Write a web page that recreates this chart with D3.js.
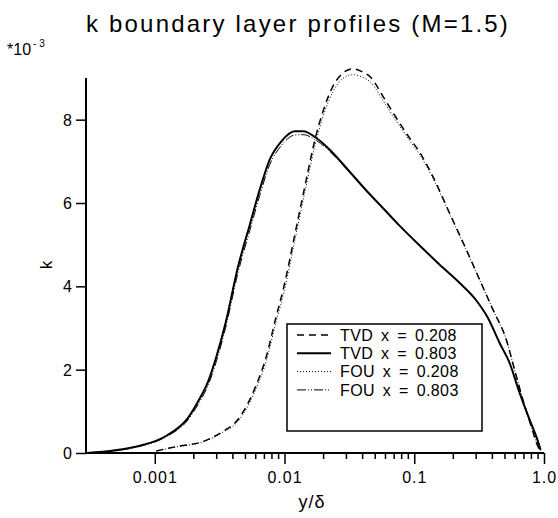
<!DOCTYPE html>
<html>
<head>
<meta charset="utf-8">
<script src="https://cdn.jsdelivr.net/npm/d3@7"></script>
<style>
  body { margin: 0; background: #fff; }
  svg text { font-family: "Liberation Sans", Arial, sans-serif; fill: #000; }
</style>
</head>
<body>
<div id="chart"></div>
<script>
// data (k in units of 1e-3)
const tvd208X = [0.00103, 0.00156, 0.00222, 0.00336, 0.00426, 0.00508, 0.00607, 0.00725, 0.0085, 0.0099, 0.0123, 0.0148, 0.0171, 0.0198, 0.0236, 0.0282, 0.0337, 0.0391, 0.0467, 0.0574, 0.0728, 0.092, 0.11, 0.139, 0.187, 0.252, 0.319, 0.404, 0.512, 0.593, 0.687, 0.797, 0.898, 0.94];
const tvd208K = [0.05, 0.17, 0.25, 0.52, 0.76, 1.12, 1.64, 2.32, 3.2, 4.0, 5.4, 6.6, 7.5, 8.2, 8.8, 9.12, 9.22, 9.16, 9.0, 8.56, 8.04, 7.56, 7.22, 6.64, 5.76, 4.88, 4.16, 3.44, 2.72, 2.0, 1.28, 0.64, 0.16, 0.05];
const fou208K = [0.05, 0.16, 0.24, 0.5, 0.72, 1.06, 1.56, 2.22, 3.08, 3.86, 5.26, 6.46, 7.36, 8.07, 8.67, 8.99, 9.08, 9.03, 8.88, 8.46, 7.96, 7.5, 7.16, 6.6, 5.74, 4.86, 4.15, 3.44, 2.72, 2.0, 1.28, 0.64, 0.16, 0.05];

const tvd803X = [0.0003, 0.00074, 0.00124, 0.00181, 0.00216, 0.00258, 0.00299, 0.0035, 0.00439, 0.0054, 0.00644, 0.00769, 0.00946, 0.012, 0.0139, 0.0176, 0.0223, 0.0318, 0.0427, 0.0573, 0.0773, 0.11, 0.157, 0.224, 0.301, 0.37, 0.455, 0.543, 0.649, 0.774, 0.898, 0.94];
const tvd803K = [0, 0.16, 0.42, 0.85, 1.24, 1.72, 2.32, 3.1, 4.48, 5.48, 6.32, 7.04, 7.48, 7.72, 7.72, 7.56, 7.28, 6.75, 6.3, 5.88, 5.45, 4.98, 4.52, 4.08, 3.66, 3.24, 2.64, 2.16, 1.44, 0.8, 0.28, 0.08];
const fou803K = [0, 0.15, 0.4, 0.8, 1.17, 1.63, 2.21, 2.98, 4.34, 5.34, 6.18, 6.92, 7.38, 7.63, 7.64, 7.5, 7.24, 6.73, 6.29, 5.87, 5.45, 4.98, 4.52, 4.08, 3.66, 3.24, 2.64, 2.16, 1.44, 0.8, 0.28, 0.08];

const xTickValues = [0.001, 0.01, 0.1, 1.0];
const xTickLabels = ['0.001', '0.01', '0.1', '1.0'];
const yTickValues = [0, 2, 4, 6, 8];

const series = [
  { label: 'TVD x = 0.208', xs: tvd208X, ks: tvd208K, dash: '7,5', width: 1.5 },
  { label: 'TVD x = 0.803', xs: tvd803X, ks: tvd803K, dash: null, width: 2 },
  { label: 'FOU x = 0.208', xs: tvd208X, ks: fou208K, dash: '1,2', width: 1 },
  { label: 'FOU x = 0.803', xs: tvd803X, ks: fou803K, dash: '9,2,1,2,1,2', width: 1 }
];

const width = 558, height = 518;
const margin = { left: 86, right: 14, top: 78, bottom: 65 };

const svg = d3.select('#chart').append('svg')
  .attr('width', width)
  .attr('height', height);

const x = d3.scaleLog().domain([0.000295, 1.0]).range([margin.left, 544]);
const y = d3.scaleLinear().domain([0, 9]).range([453, margin.top]);

// title
svg.append('text')
  .attr('x', 298).attr('y', 32)
  .attr('text-anchor', 'middle')
  .style('font-size', '24px')
  .style('letter-spacing', '2.2px')
  .text('k boundary layer profiles (M=1.5)');

// exponent label
const expo = svg.append('text').attr('x', 7).attr('y', 55).style('font-size', '16px');
expo.append('tspan').text('*10');
expo.append('tspan').attr('dy', -8).attr('dx', 2).style('font-size', '10px').text('- 3');

// y axis
const yAxis = svg.append('g')
  .attr('transform', `translate(${margin.left},0)`)
  .call(d3.axisLeft(y).tickValues(yTickValues).tickSize(10).tickPadding(4).tickFormat(d3.format('d')));
yAxis.select('.domain').attr('stroke-width', 2).attr('d', `M0,${y(9)}V${y(0)}`);
yAxis.selectAll('.tick line').attr('stroke-width', 1.5);
yAxis.selectAll('.tick text').style('font-size', '16px').attr('dy', '0.35em');

// x axis (major + minor ticks)
const minorTicks = [];
[0.001, 0.01, 0.1].forEach(dec => {
  for (let m = 2; m <= 9; m++) minorTicks.push(dec * m);
});

const xAxis = svg.append('g')
  .attr('transform', `translate(0,${y(0)})`)
  .call(d3.axisBottom(x).tickValues(xTickValues).tickSize(11).tickPadding(8)
    .tickFormat((d, i) => xTickLabels[i]));
xAxis.select('.domain').attr('stroke-width', 2).attr('d', `M${margin.left},0H${x(1.0)}`);
xAxis.selectAll('.tick line').attr('stroke-width', 1.5);
xAxis.selectAll('.tick text').style('font-size', '16px').style('letter-spacing', '1px');

svg.append('g')
  .attr('transform', `translate(0,${y(0)})`)
  .selectAll('line')
  .data(minorTicks)
  .join('line')
  .attr('x1', d => x(d)).attr('x2', d => x(d))
  .attr('y1', 0).attr('y2', 6)
  .attr('stroke', '#000').attr('stroke-width', 1.5);

// axis labels
svg.append('text')
  .attr('x', 312).attr('y', 508)
  .attr('text-anchor', 'middle')
  .style('font-size', '18px')
  .style('letter-spacing', '1px')
  .text('y/δ');

svg.append('text')
  .attr('transform', 'translate(52,265) rotate(-90)')
  .attr('text-anchor', 'middle')
  .style('font-size', '17px')
  .text('k');

// curves
const line = d3.line()
  .x(d => x(d[0]))
  .y(d => y(d[1]))
  .curve(d3.curveMonotoneX);

series.forEach(s => {
  const pts = s.xs.map((v, i) => [v, s.ks[i]]);
  svg.append('path')
    .datum(pts)
    .attr('fill', 'none')
    .attr('stroke', '#000')
    .attr('stroke-width', s.width)
    .attr('stroke-dasharray', s.dash)
    .attr('d', line);
});

// legend
const legend = svg.append('g');
legend.append('rect')
  .attr('x', 287).attr('y', 324)
  .attr('width', 195).attr('height', 107)
  .attr('fill', '#fff')
  .attr('stroke', '#000')
  .attr('stroke-width', 1.5);

series.forEach((s, i) => {
  const ly = 335 + i * 18.3;
  legend.append('line')
    .attr('x1', 297).attr('x2', 331)
    .attr('y1', ly).attr('y2', ly)
    .attr('stroke', '#000')
    .attr('stroke-width', s.width)
    .attr('stroke-dasharray', s.dash);
  legend.append('text')
    .attr('x', 340).attr('y', ly)
    .attr('dy', '0.35em')
    .style('font-size', '16px')
    .style('letter-spacing', '0.4px')
    .style('word-spacing', '3px')
    .text(s.label);
});
</script>
</body>
</html>
